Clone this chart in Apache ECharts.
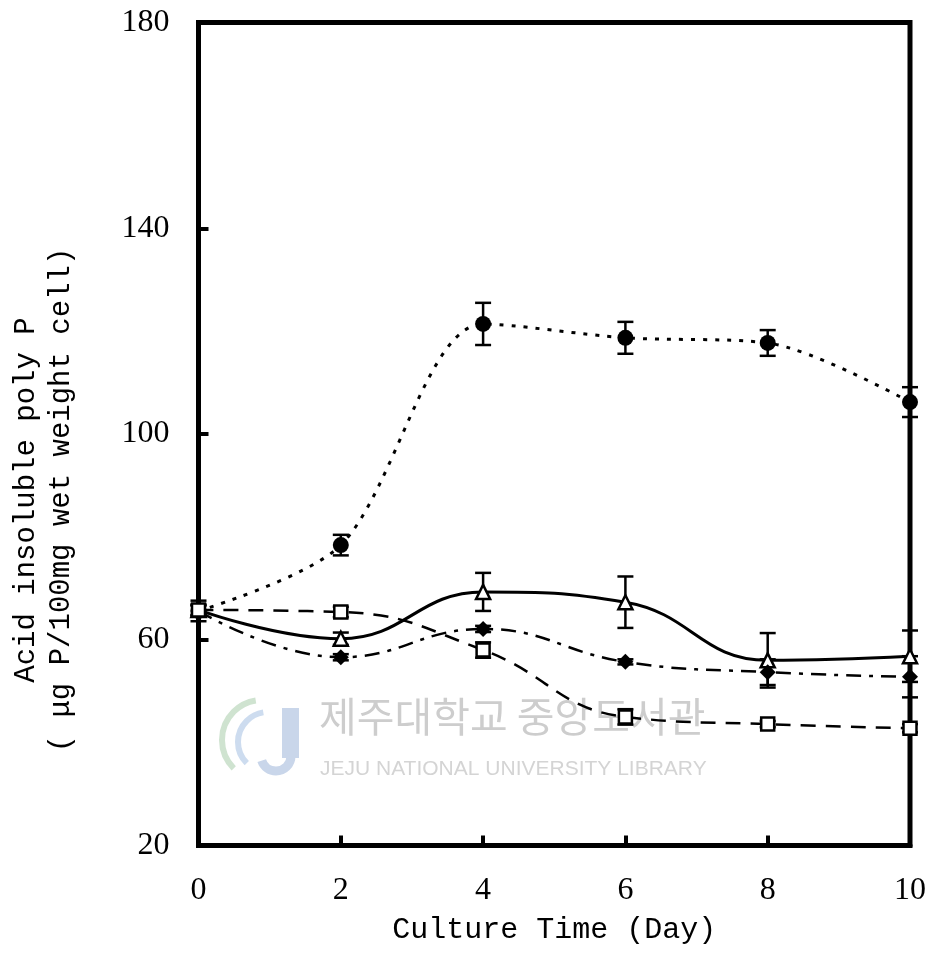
<!DOCTYPE html>
<html>
<head>
<meta charset="utf-8">
<script src="https://cdn.jsdelivr.net/npm/echarts@6/dist/echarts.min.js"></script>
<style>html,body{margin:0;padding:0;background:#fff;}#c{width:932px;height:955px;}</style>
</head>
<body>
<div id="c"></div>
<script>
// ---- data ----
const days = [0, 2, 4, 6, 8, 10];
const xTicks = ['0', '2', '4', '6', '8', '10'];
const yTicks = ['20', '60', '100', '140', '180'];

const circleVals = [65.6, 78.4, 121.4, 118.7, 117.7, 106.2];
const circleErr  = [2.0, 2.0, 4.1, 3.1, 2.5, 2.9];

const triVals = [65.8, 60.2, 69.3, 67.3, 56.0, 56.8];
const triErr  = [1.0, 1.2, 3.7, 5.0, 5.3, 5.0];

const diaVals = [65.6, 56.6, 62.1, 55.7, 53.7, 52.8];
const diaErr  = [1.0, 0.6, 0.6, 0.5, 2.5, 4.0];

const sqVals = [65.8, 65.4, 58.0, 45.0, 43.6, 42.8];
const sqErr  = [1.0, 1.0, 1.5, 1.5, 0.6, 0.8];

const xTitle = 'Culture Time (Day)';
const yTitle1 = 'Acid insoluble poly P';
const yTitle2 = '( μg P/100mg wet weight cell)';
const wmKo = '제주대학교 중앙도서관';
const wmEn = 'JEJU NATIONAL UNIVERSITY LIBRARY';

// ---- chart ----
const chart = echarts.init(document.getElementById('c'), null, {renderer: 'canvas'});

function pairs(vals) { return days.map((d, i) => [d, vals[i]]); }

function errSeries(vals, errs) {
  return {
    type: 'custom',
    z: 1,
    clip: false,
    silent: true,
    data: days.map((d, i) => [d, vals[i] - errs[i], vals[i] + errs[i]]),
    renderItem: function (params, api) {
      const lo = api.coord([api.value(0), api.value(1)]);
      const hi = api.coord([api.value(0), api.value(2)]);
      const h = 8;
      const st = {stroke: '#000', lineWidth: 2.5};
      return {
        type: 'group',
        children: [
          {type: 'line', shape: {x1: lo[0], y1: lo[1], x2: hi[0], y2: hi[1]}, style: st},
          {type: 'line', shape: {x1: lo[0] - h, y1: lo[1], x2: lo[0] + h, y2: lo[1]}, style: st},
          {type: 'line', shape: {x1: hi[0] - h, y1: hi[1], x2: hi[0] + h, y2: hi[1]}, style: st}
        ]
      };
    }
  };
}

function lineSeries(vals, symbol, size, filled, lineType, width, smooth) {
  return {
    type: 'line',
    z: 3,
    data: pairs(vals),
    smooth: smooth,
    clip: false,
    symbol: symbol,
    symbolSize: size,
    showAllSymbol: true,
    lineStyle: {color: '#000', width: width, type: lineType},
    itemStyle: {color: filled ? '#000' : '#fff', borderColor: '#000', borderWidth: filled ? 0 : 2.5},
    emphasis: {disabled: true},
    animation: false
  };
}

const option = {
  animation: false,
  backgroundColor: '#fff',
  grid: {left: 198.5, right: 22, top: 22.5, bottom: 109.5, show: true, borderColor: '#000', borderWidth: 5, backgroundColor: 'transparent'},
  xAxis: {
    type: 'value', min: 0, max: 10, interval: 2,
    name: xTitle, nameLocation: 'middle', nameGap: 70,
    nameTextStyle: {fontFamily: 'Liberation Mono', fontSize: 30, color: '#000'},
    axisLine: {show: true, lineStyle: {color: '#000', width: 5}},
    axisTick: {show: true, inside: true, length: 10, lineStyle: {color: '#000', width: 4}},
    splitLine: {show: false},
    axisLabel: {margin: 29, fontFamily: 'Liberation Serif', fontSize: 32, color: '#000',
      formatter: function (v) { return xTicks[days.indexOf(v)]; }}
  },
  yAxis: {
    type: 'value', min: 20, max: 180, interval: 40,
    name: '{a|' + yTitle1 + '}\n{b|' + yTitle2 + '}',
    nameLocation: 'middle', nameGap: 120, nameRotate: 90,
    nameTextStyle: {
      fontFamily: 'Liberation Mono', color: '#000', lineHeight: 35, padding: [0, 132, 0, 0],
      rich: {
        a: {fontFamily: 'Liberation Mono', fontSize: 29, lineHeight: 35, color: '#000'},
        b: {fontFamily: 'Liberation Mono', fontSize: 29, lineHeight: 35, color: '#000'}
      }
    },
    axisLine: {show: true, lineStyle: {color: '#000', width: 5}},
    axisTick: {show: true, inside: true, length: 10, lineStyle: {color: '#000', width: 4}},
    splitLine: {show: false},
    axisLabel: {margin: 29, fontFamily: 'Liberation Serif', fontSize: 32, color: '#000',
      formatter: function (v) { return yTicks[(v - 20) / 40]; }}
  },
  graphic: [
    // faint library logo
    {type: 'arc', z: 0, silent: true, shape: {cx: 262, cy: 740, r: 40, startAngle: Math.PI * 0.75, endAngle: Math.PI * 1.45},
      style: {stroke: '#cfe3d0', lineWidth: 6, fill: null}},
    {type: 'arc', z: 0, silent: true, shape: {cx: 268, cy: 742, r: 30, startAngle: Math.PI * 0.75, endAngle: Math.PI * 1.45},
      style: {stroke: '#cddcef', lineWidth: 6, fill: null}},
    {type: 'rect', z: 0, silent: true, shape: {x: 282, y: 708, width: 17, height: 50},
      style: {fill: '#c9d6ea'}},
    {type: 'arc', z: 0, silent: true, shape: {cx: 276, cy: 756, r: 15, startAngle: 0, endAngle: Math.PI * 0.9},
      style: {stroke: '#c9d6ea', lineWidth: 9, fill: null}},
    {type: 'text', left: 319, top: 696, z: 0, silent: true,
      style: {text: wmKo, font: '41px "Noto Sans CJK KR"', fill: '#cdcdcd'}},
    {type: 'text', left: 320, top: 759, z: 0, silent: true,
      style: {text: wmEn, font: '21px "Liberation Sans"', fill: '#d4d4d4'}}
  ],
  series: [
    errSeries(circleVals, circleErr),
    errSeries(triVals, triErr),
    errSeries(diaVals, diaErr),
    errSeries(sqVals, sqErr),
    lineSeries(circleVals, 'circle', 16, true, [4, 8], 3, 0.3),
    lineSeries(triVals, 'triangle', 14, false, 'solid', 3, 0.45),
    lineSeries(diaVals, 'diamond', 16, true, [15, 8, 4, 8], 2.5, 0.45),
    lineSeries(sqVals, 'rect', 13, false, [15, 10], 2.5, 0.45)
  ]
};
chart.setOption(option);
</script>
</body>
</html>
